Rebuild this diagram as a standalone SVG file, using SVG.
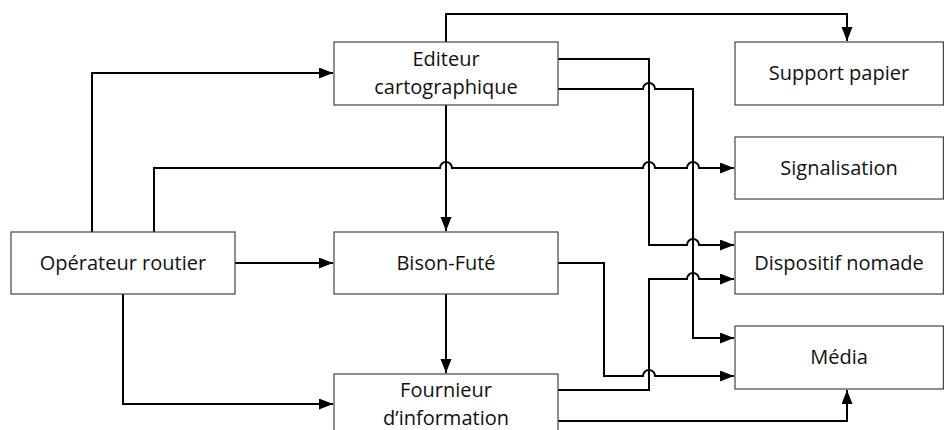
<svg xmlns="http://www.w3.org/2000/svg" width="944" height="430" viewBox="0 0 944 430">
<style>
.box{fill:#fff;stroke:#444;stroke-width:1.2}
.lbl{font-family:"Open Sans","Noto Sans","Liberation Sans",sans-serif;font-size:20px;fill:#111;text-anchor:middle}
.c{fill:none;stroke:#000;stroke-width:2}
</style>
<defs>
<marker id="ah" markerUnits="userSpaceOnUse" markerWidth="15" markerHeight="12" refX="14" refY="5.5" orient="auto">
<path d="M0,0 L14,5.5 L0,11 z" fill="#000"/>
</marker>
</defs>
<g id="connectors">
<path class="c" d="M446,42 V14 H847 V41" marker-end="url(#ah)"/>
<path class="c" d="M558,59 H649 V245 H687 A6,6 0 0 1 699,245 H734" marker-end="url(#ah)"/>
<path class="c" d="M558,89 H643 A6,6 0 0 1 655,89 H693 V338 H734" marker-end="url(#ah)"/>
<path class="c" d="M446,105 V231" marker-end="url(#ah)"/>
<path class="c" d="M92,232 V73 H333" marker-end="url(#ah)"/>
<path class="c" d="M154,232 V168 H440 A6,6 0 0 1 452,168 H643 A6,6 0 0 1 655,168 H687 A6,6 0 0 1 699,168 H734" marker-end="url(#ah)"/>
<path class="c" d="M235,263 H333" marker-end="url(#ah)"/>
<path class="c" d="M123,294 V404 H333" marker-end="url(#ah)"/>
<path class="c" d="M446,294 V373" marker-end="url(#ah)"/>
<path class="c" d="M558,263 H604 V376 H643 A6,6 0 0 1 655,376 H734" marker-end="url(#ah)"/>
<path class="c" d="M558,390 H649 V279 H687 A6,6 0 0 1 699,279 H734" marker-end="url(#ah)"/>
<path class="c" d="M558,421 H847 V390" marker-end="url(#ah)"/>
</g>
<g id="editeur">
<rect class="box" x="334" y="42" width="224" height="63"/>
<text class="lbl" x="446" y="66">Editeur</text>
<text class="lbl" x="446" y="94">cartographique</text>
</g>
<g id="operateur">
<rect class="box" x="11" y="232" width="224" height="62"/>
<text class="lbl" x="123" y="270">Opérateur routier</text>
</g>
<g id="bison">
<rect class="box" x="334" y="232" width="224" height="62"/>
<text class="lbl" x="446" y="270">Bison-Futé</text>
</g>
<g id="fournieur">
<rect class="box" x="334" y="374" width="224" height="63"/>
<text class="lbl" x="446" y="397">Fournieur</text>
<text class="lbl" x="446" y="425">d’information</text>
</g>
<g id="support">
<rect class="box" x="735" y="42" width="208.4" height="63"/>
<text class="lbl" x="839" y="80">Support papier</text>
</g>
<g id="signalisation">
<rect class="box" x="735" y="137" width="208.4" height="62"/>
<text class="lbl" x="839" y="175">Signalisation</text>
</g>
<g id="dispositif">
<rect class="box" x="735" y="232" width="208.4" height="62"/>
<text class="lbl" x="839" y="270">Dispositif nomade</text>
</g>
<g id="media">
<rect class="box" x="735" y="326" width="208.4" height="63"/>
<text class="lbl" x="839" y="364">Média</text>
</g>
</svg>
